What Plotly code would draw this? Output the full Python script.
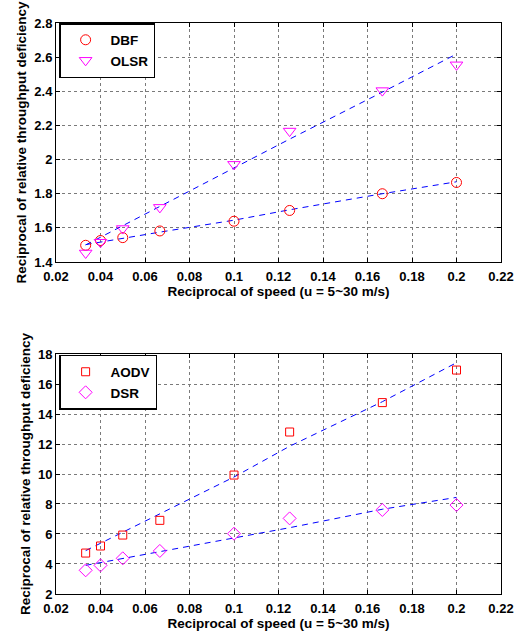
import plotly.graph_objects as go

# ---------------- data ----------------
speed_recip = [1/30, 0.04, 0.05, 1/15, 0.1, 0.125, 1/6, 0.2]

dbf = [1.498, 1.526, 1.543, 1.582, 1.639, 1.702, 1.800, 1.866]
olsr = [1.453, 1.516, 1.596, 1.720, 1.972, 2.167, 2.404, 2.555]
dbf_fit = [1.502, 1.517, 1.539, 1.575, 1.645, 1.706, 1.800, 1.870]
olsr_fit = [1.500, 1.545, 1.612, 1.724, 1.948, 2.120, 2.395, 2.618]

aodv = [4.73, 5.20, 5.93, 6.91, 9.93, 12.80, 14.76, 16.93]
dsr = [3.58, 3.91, 4.38, 4.87, 6.02, 7.04, 7.60, 7.93]
aodv_fit = [4.89, 5.38, 6.12, 7.35, 9.80, 11.85, 14.82, 17.42]
dsr_fit = [3.91, 4.09, 4.36, 4.82, 5.73, 6.42, 7.65, 8.44]

x_ticks = [0.02, 0.04, 0.06, 0.08, 0.1, 0.12, 0.14, 0.16, 0.18, 0.2, 0.22]
x_title = "Reciprocal of speed (u = 5~30 m/s)"
y_title = "Reciprocal of relative throughput deficiency"

FONT = "Liberation Sans, Arial, sans-serif"
RED = "#ff0000"
MAG = "#ff00ff"
BLUE = "#0000ff"

fig = go.Figure()

def fit_trace(y, xa, ya):
    return go.Scatter(x=speed_recip, y=y, mode="lines", xaxis=xa, yaxis=ya,
                      line=dict(color=BLUE, width=1, dash="6px,5px"),
                      showlegend=False, hoverinfo="skip")

# top panel
fig.add_trace(fit_trace(dbf_fit, "x", "y"))
fig.add_trace(fit_trace(olsr_fit, "x", "y"))
fig.add_trace(go.Scatter(x=speed_recip, y=dbf, mode="markers", name="DBF",
                         xaxis="x", yaxis="y", legend="legend",
                         marker=dict(symbol="circle-open", size=10, color=RED,
                                     line=dict(width=1, color=RED))))
fig.add_trace(go.Scatter(x=speed_recip, y=olsr, mode="markers", name="OLSR",
                         xaxis="x", yaxis="y", legend="legend",
                         marker=dict(symbol="triangle-down-open", size=11, color=MAG,
                                     line=dict(width=1, color=MAG))))
# bottom panel
fig.add_trace(fit_trace(aodv_fit, "x2", "y2"))
fig.add_trace(fit_trace(dsr_fit, "x2", "y2"))
fig.add_trace(go.Scatter(x=speed_recip, y=aodv, mode="markers", name="AODV",
                         xaxis="x2", yaxis="y2", legend="legend2",
                         marker=dict(symbol="square-open", size=8, color=RED,
                                     line=dict(width=1, color=RED))))
fig.add_trace(go.Scatter(x=speed_recip, y=dsr, mode="markers", name="DSR",
                         xaxis="x2", yaxis="y2", legend="legend2",
                         marker=dict(symbol="diamond-open", size=10, color=MAG,
                                     line=dict(width=1, color=MAG))))

tickfont = dict(family=FONT, size=13, color="black", weight="bold")
titlefont = dict(family=FONT, size=13.5, color="black", weight="bold")

def xaxis(domain_anchor):
    return dict(range=[0.02, 0.22], tickvals=x_ticks, ticktext=[f"{v:g}" for v in x_ticks],
                domain=[0, 1], anchor=domain_anchor, automargin=False,
                showline=True, linecolor="black", linewidth=1, mirror="ticks",
                ticks="inside", ticklen=4, tickcolor="black", tickwidth=1,
                showgrid=True, gridcolor="#7a7a7a", griddash="dot", gridwidth=1,
                zeroline=False, tickfont=tickfont, ticklabelstandoff=2,
                title=dict(text=x_title, font=titlefont, standoff=1))

def yaxis(rng, dtick, domain, anchor):
    return dict(range=rng, dtick=dtick, tick0=rng[0], domain=domain, anchor=anchor,
                automargin=False,
                showline=True, linecolor="black", linewidth=1, mirror="ticks",
                ticks="inside", ticklen=4, tickcolor="black", tickwidth=1,
                showgrid=True, gridcolor="#7a7a7a", griddash="dot", gridwidth=1,
                zeroline=False, tickfont=tickfont,
                title=dict(text=y_title, font=titlefont, standoff=4))

legfont = dict(family=FONT, size=13.5, color="black", weight="bold")

fig.update_layout(
    width=523, height=635,
    margin=dict(l=56, r=22, t=23, b=41, autoexpand=False),
    paper_bgcolor="white", plot_bgcolor="white",
    xaxis=xaxis("y"),
    yaxis=yaxis([1.4, 2.8], 0.2, [0.5814, 1.0], "x"),
    xaxis2=xaxis("y2"),
    yaxis2=yaxis([2, 18], 2, [0.0, 0.4203], "x2"),
    legend=dict(x=0.007, y=1.0, xanchor="left", yanchor="top",
                bgcolor="white", bordercolor="black", borderwidth=1.5,
                font=legfont, tracegroupgap=0, itemwidth=40),
    legend2=dict(x=0.007, y=0.4186, xanchor="left", yanchor="top",
                 bgcolor="white", bordercolor="black", borderwidth=1.5,
                 font=legfont, tracegroupgap=0, itemwidth=40),
    showlegend=True,
)

fig.write_html("out.html", config={"displayModeBar": False},
               post_script="document.body.style.margin='0';document.body.style.overflow='hidden';")
